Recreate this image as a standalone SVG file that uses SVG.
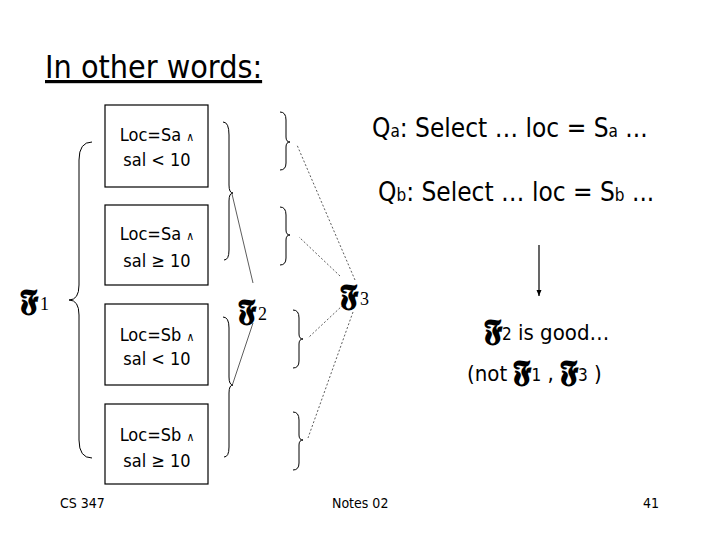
<svg xmlns="http://www.w3.org/2000/svg" width="720" height="540" viewBox="0 0 720 540">
<style>
text{font-family:"DejaVu Sans Condensed","Liberation Sans",sans-serif;fill:#000}
.box{fill:#fff;stroke:#000;stroke-width:1.2}
.br{fill:none;stroke:#000;stroke-width:1}
.ln{fill:none;stroke:#333;stroke-width:0.8}
.dt{fill:none;stroke:#333;stroke-width:0.8;stroke-dasharray:2 2}
.bt{font-size:18px;text-anchor:middle}
.w{font-size:12px}
.fr{font-family:"DejaVu Serif","Noto Sans",serif;font-weight:bold;font-size:30px}
.fs{font-family:"Liberation Serif",serif;font-weight:normal;font-size:18px}
</style>
<defs><marker id="ah" markerWidth="8" markerHeight="8" refX="6" refY="4" orient="auto" markerUnits="userSpaceOnUse"><path d="M0,1.5 L6,4 L0,6.5 Z" fill="#000"/></marker></defs>
<rect width="720" height="540" fill="#fff"/>
<text x="45" y="78" font-size="32" text-decoration="underline">In other words:</text>
<g id="n1"><rect class="box" x="105" y="105" width="103" height="82"/><text class="bt" x="157" y="141">Loc=Sa <tspan class="w">∧</tspan></text><text class="bt" x="157" y="166">sal &lt; 10</text></g>
<g id="n2"><rect class="box" x="105" y="205" width="103" height="80"/><text class="bt" x="157" y="240">Loc=Sa <tspan class="w">∧</tspan></text><text class="bt" x="157" y="267">sal ≥ 10</text></g>
<g id="n3"><rect class="box" x="105" y="304" width="103" height="81"/><text class="bt" x="157" y="341">Loc=Sb <tspan class="w">∧</tspan></text><text class="bt" x="157" y="365">sal &lt; 10</text></g>
<g id="n4"><rect class="box" x="105" y="404" width="103" height="80"/><text class="bt" x="157" y="441">Loc=Sb <tspan class="w">∧</tspan></text><text class="bt" x="157" y="467">sal ≥ 10</text></g>
<g id="braces">
<path class="br" d="M92,142 Q79,142 79,160 L79,285 Q79,300 69,300 Q79,300 79,315 L79,440 Q79,458 92,458"/>
<path class="br" d="M223,122 Q229,122 229,135 L229,185 Q229,193 233,193 Q229,193 229,201 L229,250 Q229,260 224,260"/>
<path class="br" d="M223,317 Q229,317 229,328 L229,377 Q229,385 233,385 Q229,385 229,393 L229,447 Q229,457 224,457"/>
<path class="br" d="M280,112 Q286,112 286,120 L286,137 Q286,142 290,142 Q286,142 286,147 L286,163 Q286,170 280,170"/>
<path class="br" d="M280,207 Q286,207 286,215 L286,230 Q286,235 290,235 Q286,235 286,240 L286,258 Q286,265 280,265"/>
<path class="br" d="M293,310 Q299,310 299,318 L299,334 Q299,339 303,339 Q299,339 299,344 L299,361 Q299,368 293,368"/>
<path class="br" d="M293,412 Q299,412 299,420 L299,435 Q299,440 303,440 Q299,440 299,445 L299,463 Q299,470 293,470"/>
</g>
<g id="connectors">
<line class="ln" x1="253" y1="283" x2="232" y2="194"/>
<line class="ln" x1="253" y1="323" x2="232" y2="386"/>
<line class="dt" x1="355" y1="280" x2="297" y2="145"/>
<line class="dt" x1="340" y1="276" x2="299" y2="237"/>
<line class="dt" x1="343" y1="305" x2="308" y2="338"/>
<line class="dt" x1="353" y1="312" x2="308" y2="438"/>
<line x1="539" y1="245" x2="539" y2="296" stroke="#000" stroke-width="1.2" marker-end="url(#ah)"/>
</g>
<text x="20" y="310" class="fr">𝕱<tspan class="fs" dx="2">1</tspan></text>
<text x="238" y="320" class="fr">𝕱<tspan class="fs" dx="2">2</tspan></text>
<text x="340" y="305" class="fr">𝕱<tspan class="fs" dx="2">3</tspan></text>
<text x="372" y="137" font-size="26">Q<tspan font-size="17">a</tspan>: Select … loc = S<tspan font-size="17">a</tspan> ...</text>
<text x="378" y="201" font-size="26">Q<tspan font-size="17">b</tspan>: Select … loc = S<tspan font-size="17">b</tspan> ...</text>
<text x="484" y="340" font-size="22"><tspan class="fr" font-size="28">𝕱</tspan><tspan font-size="17">2</tspan> is good…</text>
<text x="467" y="381" font-size="22">(not <tspan class="fr" font-size="28">𝕱</tspan><tspan font-size="17">1</tspan> , <tspan class="fr" font-size="28">𝕱</tspan><tspan font-size="17">3</tspan> )</text>
<text x="60" y="508" font-size="14">CS 347</text>
<text x="332" y="508" font-size="14">Notes 02</text>
<text x="643" y="508" font-size="14">41</text>
</svg>
